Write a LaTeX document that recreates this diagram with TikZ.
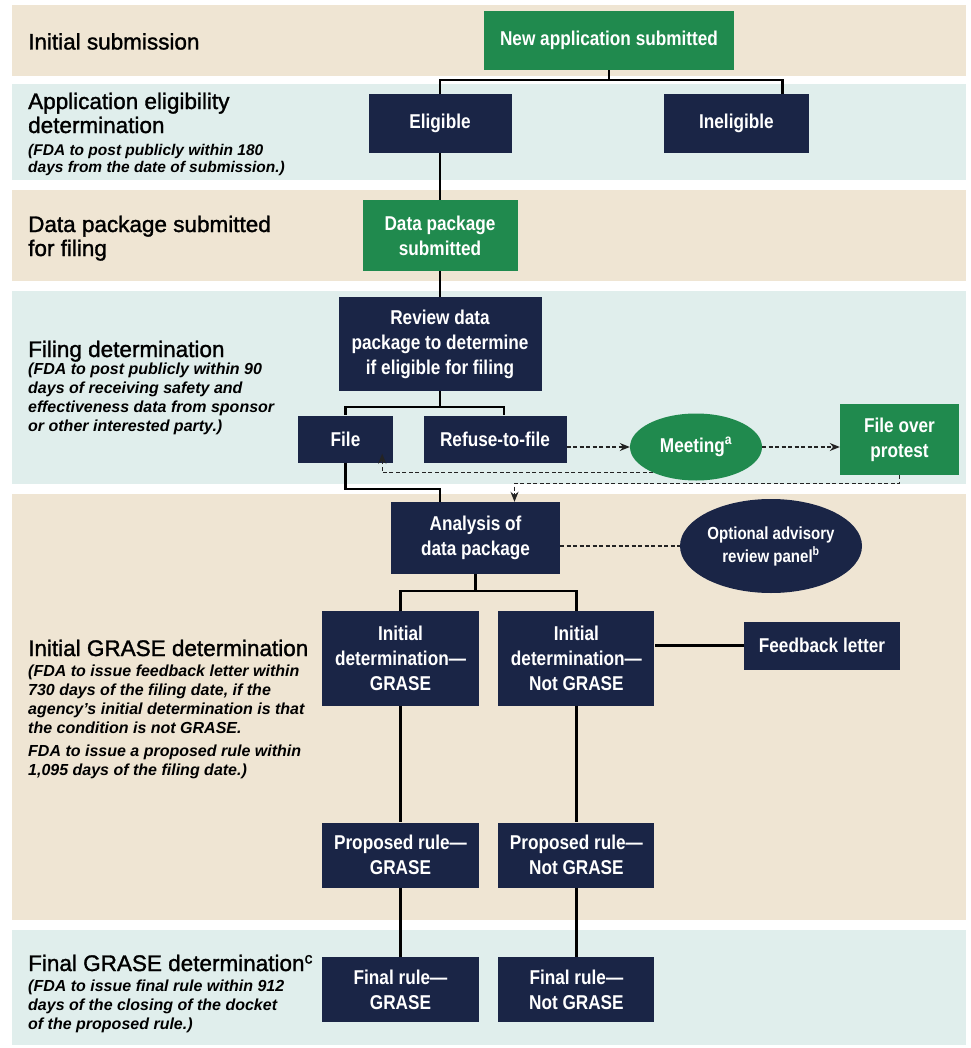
\documentclass[tikz,border=0pt]{standalone}
\usepackage{fontspec}
\setmainfont{Liberation Sans}
\newfontfamily\boxfont[FakeStretch=0.86]{Liberation Sans}
\newfontfamily\stagefont[FakeBold=1.5]{Liberation Sans}
\usetikzlibrary{positioning, shapes.geometric, arrows.meta}

\definecolor{sandband}{RGB}{239,229,211}
\definecolor{mintband}{RGB}{224,238,236}
\definecolor{fdagreen}{RGB}{32,138,78}
\definecolor{fdanavy}{RGB}{26,37,70}
\definecolor{linkgray}{RGB}{35,35,35}

\tikzstyle{navybox} = [rectangle, fill=fdanavy, text=white, inner sep=0pt, align=center, font=\boxfont\bfseries\fontsize{20}{25}\selectfont]
\tikzstyle{greenbox} = [navybox, fill=fdagreen]
\tikzstyle{greenoval} = [navybox, ellipse, fill=fdagreen]
\tikzstyle{navyoval} = [navybox, ellipse]
\tikzstyle{stage} = [anchor=north west, inner sep=0pt, align=left, font=\stagefont\fontsize{22.5}{24}\selectfont]
\tikzstyle{remark} = [anchor=north west, inner sep=0pt, align=left, font=\bfseries\itshape\fontsize{16}{19}\selectfont]
\tikzstyle{flow} = [line width=2.2pt]
\tikzstyle{loopback} = [line width=1.2pt, linkgray, dash pattern=on 4pt off 2.5pt, -{Stealth[length=10pt,width=8pt]}]
\tikzstyle{tiein} = [line width=1.2pt, linkgray, dash pattern=on 4pt off 2.5pt]

\begin{document}
\begin{tikzpicture}[x=1pt,y=-1pt]
  \useasboundingbox (0,0) rectangle (970,1048);
  \fill[white] (0,0) rectangle (970,1048);
  % bands
  \fill[sandband] (12,5) rectangle (966,76);
  \fill[mintband] (12,84) rectangle (966,180);
  \fill[sandband] (12,190) rectangle (966,281);
  \fill[mintband] (12,291) rectangle (966,484);
  \fill[sandband] (12,494) rectangle (966,920);
  \fill[mintband] (12,930) rectangle (966,1045);

  % stage labels
  \node (s1) [stage] at (28,33) {Initial submission};
  \node (s2) [stage] at (28,92.5) {Application eligibility\\determination};
  \node (r2) [remark, font=\bfseries\itshape\fontsize{15.5}{17}\selectfont] at (28,144.2) {(FDA to post publicly within 180\\days from the date of submission.)};
  \node (s3) [stage] at (28,215.5) {Data package submitted\\for filing};
  \node (s4) [stage] at (28,340.5) {Filing determination};
  \node (r4) [remark] at (28,363.2) {(FDA to post publicly within 90\\days of receiving safety and\\effectiveness data from sponsor\\or other interested party.)};
  \node (s5) [stage] at (28,639.5) {Initial GRASE determination};
  \node (r5) [remark] at (28,664.2) {(FDA to issue feedback letter within\\730 days of the filing date, if the\\agency’s initial determination is that\\the condition is not GRASE.\\[4pt]FDA to issue a proposed rule within\\1,095 days of the filing date.)};
  \node (s6) [stage] at (28,954.5) {Final GRASE determination\textsuperscript{c}};
  \node (r6) [remark] at (28,979.2) {(FDA to issue final rule within 912\\days of the closing of the docket\\of the proposed rule.)};

  % boxes
  \node (newapp) [greenbox, minimum width=250pt, minimum height=59pt] at (609,40.5) {New application submitted};
  \node (elig) [navybox, minimum width=143pt, minimum height=59pt] at (440,123.5) {Eligible};
  \node (inelig) [navybox, minimum width=145pt, minimum height=59pt, right=152pt of elig] {Ineligible};
  \node (datapkg) [greenbox, minimum width=155pt, minimum height=71pt] at (440,235.5) {Data package\\submitted};
  \node (review) [navybox, minimum width=203pt, minimum height=94pt] at (440,344) {Review data\\package to determine\\if eligible for filing};
  \node (file) [navybox, minimum width=95pt, minimum height=47pt] at (345.5,439) {File};
  \node (refuse) [navybox, minimum width=143pt, minimum height=47pt] at (495,439) {Refuse-to-file};
  \node (meeting) [greenoval, minimum width=132pt, minimum height=67pt] at (696,447) {Meeting\textsuperscript{a}};
  \node (protest) [greenbox, minimum width=119pt, minimum height=71pt] at (899.5,439.5) {File over\\protest};
  \node (analysis) [navybox, minimum width=169pt, minimum height=72pt] at (475.5,538) {Analysis of\\data package};
  \node (panel) [navyoval, inner xsep=-8pt, minimum width=182pt, minimum height=94pt, font=\boxfont\bfseries\fontsize{17.5}{23}\selectfont] at (771,546) {Optional advisory\\review panel\textsuperscript{b}};
  \node (initg) [navybox, minimum width=157pt, minimum height=95pt] at (400.5,658.5) {Initial\\determination—\\GRASE};
  \node (initng) [navybox, minimum width=156pt, minimum height=95pt, right=19pt of initg] {Initial\\determination—\\Not GRASE};
  \node (feedback) [navybox, minimum width=156pt, minimum height=48pt] at (822,645.5) {Feedback letter};
  \node (propg) [navybox, minimum width=157pt, minimum height=65pt] at (400.5,855) {Proposed rule—\\GRASE};
  \node (propng) [navybox, minimum width=156pt, minimum height=65pt, right=19pt of propg] {Proposed rule—\\Not GRASE};
  \node (finalg) [navybox, minimum width=157pt, minimum height=65pt] at (400.5,989.5) {Final rule—\\GRASE};
  \node (finalng) [navybox, minimum width=156pt, minimum height=65pt, right=19pt of finalg] {Final rule—\\Not GRASE};

  % solid flow
  \draw [flow] (newapp.south) -- ++(0,10) -| (elig.north);
  \draw [flow] (newapp.south) -- ++(0,10) -| ([xshift=46pt]inelig.north);
  \draw [flow] (elig) -- (datapkg);
  \draw [flow] (datapkg) -- (review);
  \draw [flow] (review.south) -- ++(0,16) -| (file.north);
  \draw [flow] (review.south) -- ++(0,16) -| ([xshift=9pt]refuse.north);
  \draw [flow] (file.south) -- ++(0,26) -| ([xshift=-35.5pt]analysis.north);
  \draw [flow] (analysis.south) -- ++(0,17) -| (initg.north);
  \draw [flow] (analysis.south) -- ++(0,17) -| (initng.north);
  \draw [flow] (initg) -- (propg);
  \draw [flow] (propg) -- (finalg);
  \draw [flow] (initng) -- (propng);
  \draw [flow] (propng) -- (finalng);
  \draw [flow] (feedback.west) -- (feedback.west -| initng.east);

  % dashed
  \draw [loopback] (refuse.east |- meeting.west) -- (meeting.west);
  \draw [loopback] (meeting.east) -- (meeting.east -| protest.west);
  \draw [loopback] (meeting.211) -| ([xshift=-11pt,yshift=9pt]file.south east);
  \draw [loopback] (protest.south) -- ++(0,8) -| ([xshift=39pt]analysis.north);
  \draw [tiein] (analysis.east |- panel.west) -- (panel.west);
\end{tikzpicture}
\end{document}
